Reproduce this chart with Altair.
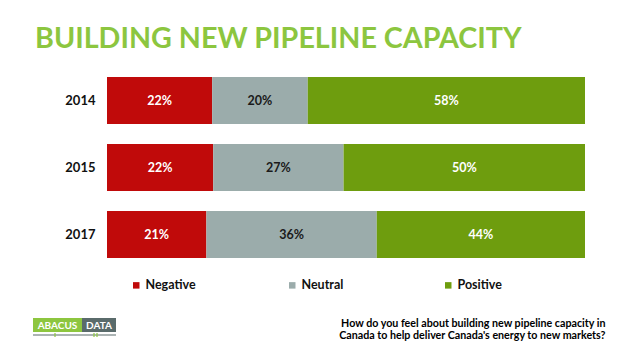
import altair as alt
import pandas as pd

years = ["2014", "2015", "2017"]
categories = ["Negative", "Neutral", "Positive"]
negative = [22, 22, 21]
neutral = [20, 27, 36]
positive = [58, 50, 44]
colors = ["#C00A0A", "#9BACAB", "#6E9D0E"]
title_text = "BUILDING NEW PIPELINE CAPACITY"
footnote = [
    "How do you feel about building new pipeline capacity in",
    "Canada to help deliver Canada's energy to new markets?",
]
logo_words = ["ABACUS", "DATA"]

rows = []
for i, yr in enumerate(years):
    for j, (c, vals) in enumerate(zip(categories, [negative, neutral, positive])):
        rows.append({"year": yr, "category": c, "value": vals[i], "order": j,
                     "label": f"{vals[i]}%"})
df = pd.DataFrame(rows)

base = alt.Chart(df).transform_stack(
    stack="value", groupby=["year"], as_=["v0", "v1"], offset="normalize",
    sort=[alt.SortField("order", order="ascending")]
).transform_calculate(mid="(datum.v0 + datum.v1) / 2")

y_enc = alt.Y(
    "year:N", sort=years,
    scale=alt.Scale(paddingInner=0.3, paddingOuter=0.15),
    axis=alt.Axis(title=None, domain=False, ticks=False, labelFont="Lato",
                  labelFontWeight="bold", labelFontSize=13, labelColor="#111111",
                  labelPadding=12),
)

bars = base.mark_bar(strokeWidth=0).encode(
    x=alt.X("v0:Q", scale=alt.Scale(domain=[0, 1]),
            axis=alt.Axis(title=footnote, labels=False, ticks=False, domain=False,
                          grid=False, titleX=498, titleY=58, titleAlign="right",
                          titleFont="Lato", titleFontSize=10.7, titleFontWeight="bold",
                          titleColor="#000000", titleLineHeight=12.5,
                          titleBaseline="alphabetic")),
    x2="v1:Q",
    y=y_enc,
    color=alt.Color(
        "category:N", scale=alt.Scale(domain=categories, range=colors),
        legend=alt.Legend(title=None, orient="none", legendX=23, legendY=212,
                          direction="horizontal", symbolType="square",
                          symbolSize=42, symbolStrokeWidth=0, labelFont="Lato",
                          labelFontWeight="bold", labelFontSize=12.5,
                          labelColor="#111111", columnPadding=90, padding=0,
                          labelOffset=3, gridAlign="all"),
    ),
)

text = base.mark_text(font="Lato", fontWeight="bold", fontSize=12.5).encode(
    x="mid:Q",
    y=alt.Y("year:N", sort=years),
    text="label:N",
    color=alt.condition("datum.category == 'Neutral'", alt.value("#1a1a1a"),
                        alt.value("white")),
)

one = pd.DataFrame({"k": [0]})
logo_green = alt.Chart(one).mark_rect(color="#8DC63F").encode(
    x=alt.value(-74), x2=alt.value(-25), y=alt.value(251), y2=alt.value(265))
logo_gray = alt.Chart(one).mark_rect(color="#5A6B6B").encode(
    x=alt.value(-25), x2=alt.value(9), y=alt.value(251), y2=alt.value(265))
logo_line = alt.Chart(one).mark_rule(color="#5A6B6B", strokeWidth=1.2).encode(
    x=alt.value(-74), x2=alt.value(9), y=alt.value(268))
logo_tick1 = alt.Chart(one).mark_rule(color="#8DC63F", strokeWidth=1.2).encode(
    x=alt.value(-52), y=alt.value(266), y2=alt.value(270))
logo_tick2 = alt.Chart(one).mark_rule(color="#8DC63F", strokeWidth=1.2).encode(
    x=alt.value(-13), y=alt.value(266), y2=alt.value(270))
logo_tick3 = alt.Chart(one).mark_rule(color="#8DC63F", strokeWidth=1.2).encode(
    x=alt.value(-10), y=alt.value(266), y2=alt.value(270))
logo_t1 = alt.Chart(one).mark_text(font="Lato", fontWeight="bold", fontSize=10,
                                   color="white").encode(
    x=alt.value(-49.5), y=alt.value(258.5), text=alt.value(logo_words[0]))
logo_t2 = alt.Chart(one).mark_text(font="Lato", fontWeight="bold", fontSize=10,
                                   color="white").encode(
    x=alt.value(-8), y=alt.value(258.5), text=alt.value(logo_words[1]))

chart = alt.layer(bars, text, logo_green, logo_gray, logo_line, logo_tick1,
                  logo_tick2, logo_tick3, logo_t1, logo_t2).properties(
    width=478, height=201,
    autosize=alt.AutoSizeParams(type="none"),
    padding={"left": 107, "top": 67, "right": 45, "bottom": 86},
    background="white",
    title=alt.TitleParams(text=title_text, anchor="start", frame="group",
                          font="Lato", fontSize=28.7, fontWeight="bold",
                          color="#8CC63F", dx=-72, offset=13),
).configure_view(stroke=None)

chart.save("out.html", embed_options={"renderer": "svg", "actions": False})
